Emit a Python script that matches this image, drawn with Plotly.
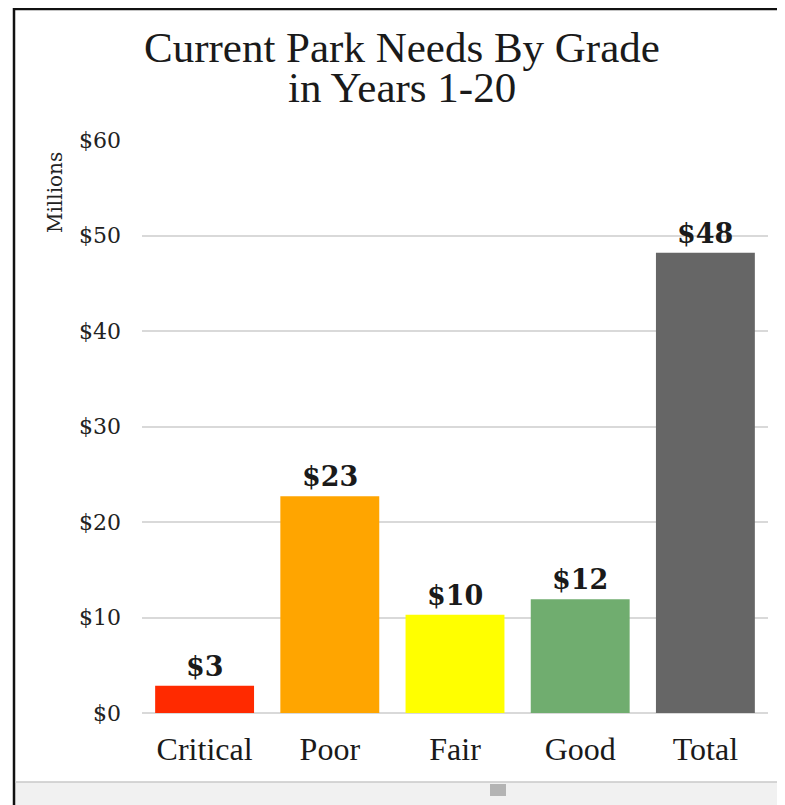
import plotly.graph_objects as go

categories = ["Critical", "Poor", "Fair", "Good", "Total"]
values = [2.85, 22.7, 10.3, 11.9, 48.2]
labels = ["$3", "$23", "$10", "$12", "$48"]
colors = ["#ff2a00", "#ffa500", "#ffff00", "#70ad6f", "#666666"]
tick_vals = [0, 10, 20, 30, 40, 50, 60]
tick_text = ["$0", "$10", "$20", "$30", "$40", "$50", "$60"]

O = 8  # page body margin offset
W, H = 785 - O, 805 - O
L, R, T, B = 142 - O, 17, 140 - O, 805 - 713
pw, ph = W - L - R, H - T - B

def px(sx):
    return (sx - O - L) / pw

def py(sy):
    return (H - B - (sy - O)) / ph

fig = go.Figure(go.Bar(
    x=categories, y=values, marker=dict(color=colors, line=dict(width=0)),
    width=0.79, hoverinfo="skip",
))

for c, v, t in zip(categories, values, labels):
    fig.add_annotation(x=c, y=v, text=t, showarrow=False, yanchor="bottom",
                       yshift=2, font=dict(family="DejaVu Serif", size=27, color="#1a1a1a", weight="bold"),
                       xref="x", yref="y")

fig.add_annotation(text="Millions", textangle=-90, x=px(55), y=py(193), xref="paper", yref="paper",
                   showarrow=False, xanchor="center", yanchor="middle",
                   font=dict(family="DejaVu Serif", size=20, color="#222"))

# title
fig.add_annotation(text="Current Park Needs By Grade", x=px(402), y=py(47), xref="paper", yref="paper",
                   showarrow=False, xanchor="center", yanchor="middle",
                   font=dict(family="Liberation Serif", size=43, color="#1a1a1a"))
fig.add_annotation(text="in Years 1-20", x=px(402), y=py(87), xref="paper", yref="paper",
                   showarrow=False, xanchor="center", yanchor="middle",
                   font=dict(family="Liberation Serif", size=43, color="#1a1a1a"))

# frame
fig.add_shape(type="line", xref="paper", yref="paper", x0=px(13), x1=px(790), y0=py(9), y1=py(9),
              line=dict(color="#111", width=2.5))
fig.add_shape(type="line", xref="paper", yref="paper", x0=px(14), x1=px(14), y0=py(8), y1=py(810),
              line=dict(color="#111", width=2.5))
# bottom strip
fig.add_shape(type="rect", xref="paper", yref="paper", x0=px(15), x1=px(790), y0=py(782), y1=py(810),
              line=dict(width=0), fillcolor="#f1f1f1", layer="below")
fig.add_shape(type="line", xref="paper", yref="paper", x0=px(15), x1=px(790), y0=py(782), y1=py(782),
              line=dict(color="#c8c8c8", width=1.5))
fig.add_shape(type="rect", xref="paper", yref="paper", x0=px(490), x1=px(506), y0=py(784), y1=py(796),
              line=dict(width=0), fillcolor="#b4b4b4")

fig.update_layout(
    width=W, height=H,
    margin=dict(l=L, r=R, t=T, b=B),
    paper_bgcolor="white", plot_bgcolor="white",
    showlegend=False,
    bargap=0.21,
    xaxis=dict(showgrid=False, showline=False, ticks="", fixedrange=True, ticklabelstandoff=14,
               tickfont=dict(family="Liberation Serif", size=32, color="#1a1a1a")),
    yaxis=dict(range=[0, 60], tickvals=tick_vals, ticktext=tick_text, showgrid=True,
               gridcolor="#d9d9d9", gridwidth=2, zeroline=True, zerolinecolor="#d9d9d9",
               zerolinewidth=2, showline=False, ticks="", ticklabelstandoff=20,
               tickfont=dict(family="DejaVu Serif", size=22, color="#222")),
)

fig.write_html("out.html")
